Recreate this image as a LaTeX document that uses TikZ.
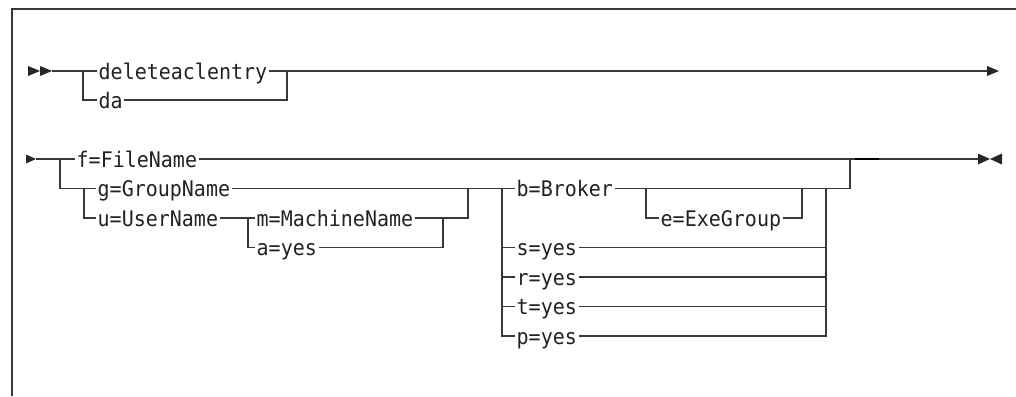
\documentclass[tikz,border=0pt]{standalone}
\usepackage{fontspec}
\setmonofont[FakeStretch=0.93]{DejaVu Sans Mono}
\definecolor{linec}{HTML}{383838}
\definecolor{txtc}{HTML}{222222}
\begin{document}
\begin{tikzpicture}[x=1pt,y=-1pt,
  ln/.style={draw=linec, line width=1.35pt},
  frm/.style={draw=linec, line width=1.5pt},
  lbl/.style={font=\ttfamily\fontsize{21.5}{24}\selectfont, text=txtc, inner xsep=1.5pt, inner ysep=0pt, text height=16pt, text depth=0pt, anchor=west},
  head/.style={fill=black!85}]
\useasboundingbox (0,0) rectangle (1016,396);

% frame
\coordinate (fbl) at (12,396);
\coordinate (ftl) at (12,9);
\coordinate (ftr) at (1016,9);
\draw[frm] (fbl) -- (ftl) -- (ftr);

% row 1
\fill[head] (28,66) -- (40,71) -- (28,76) -- cycle;
\fill[head] (40,66) -- (52,71) -- (40,76) -- cycle;
\coordinate (a1) at (52,71);
\coordinate (j1) at (83,71);
\node[lbl] (del) at (97,71) {deleteaclentry};
\node[lbl] (da) at (97,100) {da};
\coordinate (j2) at (287,71);
\coordinate (z1) at (988,71);
\draw[ln] (a1) -- (j1) -- (del.west);
\draw[ln] (j1) |- (da.west);
\draw[ln] (del.east) -- (j2) -- (z1);
\draw[ln] (da.east) -| (j2);
\fill[head] (987,66) -- (999,71) -- (987,76) -- cycle;

% row 2
\fill[head] (26,154.5) -- (36,159) -- (26,163.5) -- cycle;
\coordinate (a2) at (36,159);
\coordinate (k1) at (60,159);
\node[lbl] (f) at (75,159) {f=FileName};
\coordinate (k3) at (84,188.5);
\node[lbl] (g) at (96,188.5) {g=GroupName};
\node[lbl] (u) at (96,218) {u=UserName};
\coordinate (m1) at (248,218);
\node[lbl] (m) at (255,218) {m=MachineName};
\node[lbl] (ay) at (255,247.5) {a=yes};
\coordinate (m2) at (443,218);
\coordinate (gu) at (468,218);
\coordinate (gu2) at (468,188.5);
\coordinate (b1) at (502,188.5);
\node[lbl] (b) at (515,188.5) {b=Broker};
\coordinate (e1) at (646,188.5);
\node[lbl] (e) at (659,218) {e=ExeGroup};
\coordinate (e2) at (802,188.5);
\node[lbl] (s) at (515,247.5) {s=yes};
\node[lbl] (r) at (515,277) {r=yes};
\node[lbl] (t) at (515,306.5) {t=yes};
\node[lbl] (p) at (515,336) {p=yes};
\coordinate (b2) at (826,188.5);
\coordinate (c1) at (850,188.5);
\coordinate (c2) at (850,159);
\coordinate (c2a) at (855,159);
\coordinate (c3) at (879,159);
\coordinate (z2) at (978,159);

\draw[ln] (a2) -- (k1) -- (f.west);
\draw[ln] (f.east) -- (c2) -- (z2);
\draw[line width=2.2pt, draw=black] (c2a) -- (c3);
\draw[ln] (k1) |- (g.west);
\draw[ln] (k3) |- (u.west);
\draw[ln] (u.east) -- (m1) -- (m.west);
\draw[ln] (m1) |- (ay.west);
\draw[ln] (m.east) -- (gu) -- (gu2);
\draw[ln] (ay.east) -| (m2);
\draw[ln] (g.east) -- (b1) -- (b.west);
\draw[ln] (b1) |- (s.west);
\draw[ln] (b1) |- (r.west);
\draw[ln] (b1) |- (t.west);
\draw[ln] (b1) |- (p.west);
\draw[ln] (b.east) -- (b2) -- (c1) -- (c2);
\draw[ln] (e1) |- (e.west);
\draw[ln] (e.east) -| (e2);
\draw[ln] (s.east) -| (b2);
\draw[ln] (r.east) -| (b2);
\draw[ln] (t.east) -| (b2);
\draw[ln] (p.east) -| (b2);

\fill[head] (978,153.5) -- (990,159) -- (978,164.5) -- cycle;
\fill[head] (1002,153.5) -- (990,159) -- (1002,164.5) -- cycle;
\end{tikzpicture}
\end{document}
